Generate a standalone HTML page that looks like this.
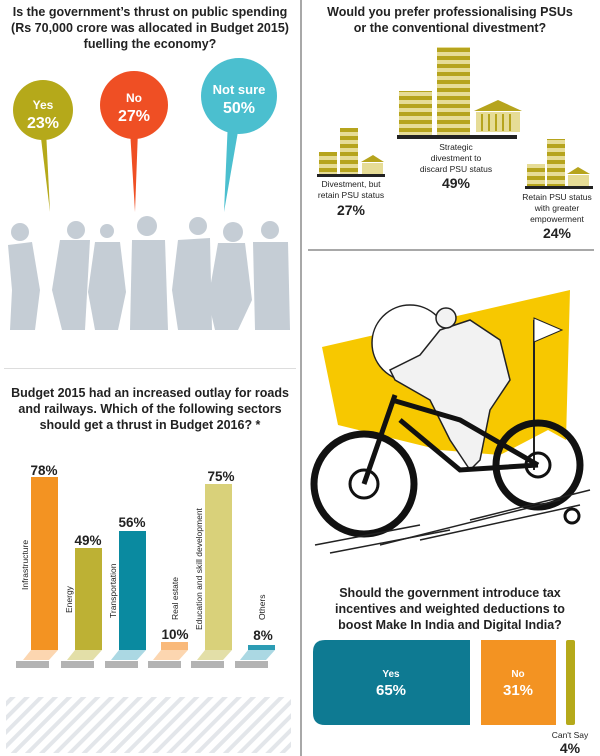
<!DOCTYPE html>
<html><head><meta charset="utf-8"><style>
html,body{margin:0;padding:0;background:#fff}
svg{display:block}
text{font-family:"Liberation Sans",Arial,sans-serif}
</style></head><body>
<svg width="600" height="756" viewBox="0 0 600 756" xmlns="http://www.w3.org/2000/svg">
<defs>
<pattern id="hatch" width="10" height="10" patternUnits="userSpaceOnUse" patternTransform="rotate(45)">
<rect width="10" height="10" fill="#fff"/><rect width="4" height="10" fill="#e3e6ea"/>
</pattern>
<pattern id="stripe" width="10" height="8" patternUnits="userSpaceOnUse">
<rect width="10" height="8" fill="#e6dc96"/><rect y="0" width="10" height="4" fill="#b6a41d"/>
</pattern>
</defs>
<!-- dividers -->
<rect x="300" y="0" width="2" height="756" fill="#a8a8a8"/>
<rect x="4" y="368" width="292" height="1" fill="#ddd"/>
<rect x="308" y="249" width="286" height="2" fill="#a8a8a8"/>

<!-- Section 1 -->
<g font-weight="bold" font-size="12.5" fill="#222" text-anchor="middle">
<text x="150" y="16">Is the government’s thrust on public spending</text>
<text x="150" y="32">(Rs 70,000 crore was allocated in Budget 2015)</text>
<text x="150" y="48">fuelling the economy?</text>
</g>
<polygon points="40,130 46,130 50,212" fill="#b5a91a"/>
<circle cx="43" cy="110" r="30" fill="#b5a91a"/>
<polygon points="130,130 138,130 135,212" fill="#ef4f24"/>
<circle cx="134" cy="105" r="34" fill="#ef4f24"/>
<polygon points="228,120 240,120 224,212" fill="#4bbfcf"/>
<circle cx="239" cy="96" r="38" fill="#4bbfcf"/>
<g fill="#fff" font-weight="bold" text-anchor="middle">
<text x="43" y="109" font-size="12">Yes</text><text x="43" y="128" font-size="16">23%</text>
<text x="134" y="102" font-size="12">No</text><text x="134" y="121" font-size="16">27%</text>
<text x="239" y="94" font-size="13">Not sure</text><text x="239" y="113" font-size="16">50%</text>
</g>
<g fill="#c5cdd5">
<circle cx="20" cy="232" r="9"/><path d="M8,245 L32,242 L40,290 L35,330 L10,330 L12,290 Z"/>
<circle cx="76" cy="230" r="9"/><path d="M60,240 L90,240 L85,330 L62,330 L52,290 Z"/>
<circle cx="107" cy="231" r="7"/><path d="M95,242 L120,242 L126,292 L118,330 L95,330 L88,292 Z"/>
<circle cx="147" cy="226" r="10"/><path d="M132,240 L165,240 L168,330 L130,330 Z"/>
<circle cx="198" cy="226" r="9"/><path d="M178,240 L210,238 L212,330 L178,330 L172,290 Z"/>
<circle cx="233" cy="232" r="10"/><path d="M218,243 L245,243 L252,300 L238,330 L215,330 L208,300 Z"/>
<circle cx="270" cy="230" r="9"/><path d="M253,242 L288,242 L290,330 L255,330 Z"/>
</g>

<!-- Section 2 -->
<g font-weight="bold" font-size="12.5" fill="#222" text-anchor="middle">
<text x="150" y="397">Budget 2015 had an increased outlay for roads</text>
<text x="150" y="413">and railways. Which of the following sectors</text>
<text x="150" y="429">should get a thrust in Budget 2016? *</text>
</g>
<g>
<rect x="31" y="477" width="27" height="173" fill="#f39322"/>
<rect x="75" y="548" width="27" height="102" fill="#bdb134"/>
<rect x="119" y="531" width="27" height="119" fill="#0a8aa0"/>
<rect x="161" y="642" width="27" height="8" fill="#f9b97a"/>
<rect x="205" y="484" width="27" height="166" fill="#d9d17a"/>
<rect x="248" y="645" width="27" height="5" fill="#2c9cb4"/>
<polygon points="23,660 31,650 58,650 49,660" fill="#fcd6b0"/>
<polygon points="67,660 75,650 102,650 93,660" fill="#e3dfa8"/>
<polygon points="111,660 119,650 146,650 137,660" fill="#abd8e3"/>
<polygon points="153,660 161,650 188,650 179,660" fill="#fcd6b0"/>
<polygon points="197,660 205,650 232,650 223,660" fill="#e3dfa8"/>
<polygon points="240,660 248,650 275,650 266,660" fill="#abd8e3"/>
<g fill="#b3b3b3">
<rect x="16" y="661" width="33" height="7"/><rect x="61" y="661" width="33" height="7"/>
<rect x="105" y="661" width="33" height="7"/><rect x="148" y="661" width="33" height="7"/>
<rect x="191" y="661" width="33" height="7"/><rect x="235" y="661" width="33" height="7"/>
</g>
<g font-weight="bold" font-size="13.5" fill="#222" text-anchor="middle">
<text x="44" y="475">78%</text><text x="88" y="545">49%</text><text x="132" y="527">56%</text>
<text x="175" y="639">10%</text><text x="221" y="481">75%</text><text x="263" y="640">8%</text>
</g>
<g font-size="8.5" fill="#222">
<text transform="translate(28,590) rotate(-90)">Infrastructure</text>
<text transform="translate(72,613) rotate(-90)">Energy</text>
<text transform="translate(116,618) rotate(-90)">Transportation</text>
<text transform="translate(178,620) rotate(-90)">Real estate</text>
<text transform="translate(202,630) rotate(-90)">Education and skill development</text>
<text transform="translate(265,620) rotate(-90)">Others</text>
</g>
</g>
<rect x="6" y="697" width="285" height="56" fill="url(#hatch)"/>

<!-- Section 3 right top -->
<g font-weight="bold" font-size="12.5" fill="#222" text-anchor="middle">
<text x="450" y="16">Would you prefer professionalising PSUs</text>
<text x="450" y="32">or the conventional divestment?</text>
</g>
<!-- big group -->
<rect x="399" y="91" width="33" height="44" fill="url(#stripe)"/>
<rect x="437" y="47" width="33" height="88" fill="url(#stripe)"/>
<polygon points="474,111 498,100 522,111" fill="#b6a41d"/>
<rect x="476" y="112" width="44" height="20" fill="#e6dc96"/>
<g fill="#b6a41d"><rect x="481" y="114" width="2" height="17"/><rect x="488" y="114" width="2" height="17"/><rect x="495" y="114" width="2" height="17"/><rect x="502" y="114" width="2" height="17"/><rect x="509" y="114" width="2" height="17"/></g>
<rect x="397" y="135" width="120" height="4" fill="#222"/>
<!-- left small -->
<rect x="319" y="152" width="18" height="22" fill="url(#stripe)"/>
<rect x="340" y="128" width="18" height="46" fill="url(#stripe)"/>
<polygon points="361,162 373,155 384,162" fill="#b6a41d"/>
<rect x="362" y="163" width="21" height="11" fill="#e6dc96"/>
<rect x="317" y="174" width="68" height="3" fill="#222"/>
<!-- right small -->
<rect x="527" y="164" width="18" height="22" fill="url(#stripe)"/>
<rect x="547" y="139" width="18" height="47" fill="url(#stripe)"/>
<polygon points="567,174 578,167 590,174" fill="#b6a41d"/>
<rect x="568" y="175" width="21" height="11" fill="#e6dc96"/>
<rect x="525" y="186" width="68" height="3" fill="#222"/>
<g font-size="8.5" fill="#222" text-anchor="middle">
<text x="351" y="187">Divestment, but</text><text x="351" y="198">retain PSU status</text>
<text x="456" y="150">Strategic</text><text x="456" y="161">divestment to</text><text x="456" y="172">discard PSU status</text>
<text x="557" y="200">Retain PSU status</text><text x="557" y="211">with greater</text><text x="557" y="222">empowerment</text>
</g>
<g font-weight="bold" font-size="14" fill="#222" text-anchor="middle">
<text x="351" y="215">27%</text><text x="456" y="188">49%</text><text x="557" y="238">24%</text>
</g>

<!-- bike illustration (approx) -->
<polygon points="322,347 570,290 566,440 548,430 500,455 440,450 338,425" fill="#f7c800"/>
<circle cx="410" cy="343" r="38" fill="#fff" stroke="#222" stroke-width="1.5"/>
<path d="M440,330 L470,320 L500,340 L510,380 L490,410 L480,460 L470,470 L450,440 L430,400 L395,380 L390,370 L420,355 Z" fill="#f2f2f2" stroke="#222" stroke-width="1.5"/>
<circle cx="446" cy="318" r="10" fill="#f2f2f2" stroke="#222" stroke-width="1.5"/>
<line x1="534" y1="320" x2="534" y2="470" stroke="#222" stroke-width="2"/>
<polygon points="534,318 562,330 534,342" fill="#fff" stroke="#222"/>
<circle cx="364" cy="484" r="50" fill="none" stroke="#111" stroke-width="7"/>
<circle cx="364" cy="484" r="14" fill="none" stroke="#111" stroke-width="3"/>
<circle cx="538" cy="465" r="42" fill="none" stroke="#111" stroke-width="7"/>
<circle cx="538" cy="465" r="12" fill="none" stroke="#111" stroke-width="3"/>
<circle cx="572" cy="516" r="7" fill="none" stroke="#111" stroke-width="3"/>
<path d="M364,484 L395,395 M392,400 L460,420 L538,465 M400,420 L460,470 L538,465" stroke="#111" stroke-width="5" fill="none"/>
<g stroke="#222" stroke-width="1.5">
<line x1="315" y1="545" x2="420" y2="525"/><line x1="330" y1="553" x2="450" y2="530"/>
<line x1="380" y1="545" x2="560" y2="500"/><line x1="420" y1="540" x2="580" y2="505"/>
<line x1="470" y1="520" x2="590" y2="490"/>
</g>

<!-- tax section -->
<g font-weight="bold" font-size="12.5" fill="#222" text-anchor="middle">
<text x="450" y="597">Should the government introduce tax</text>
<text x="450" y="613">incentives and weighted deductions to</text>
<text x="450" y="629">boost Make In India and Digital India?</text>
</g>
<path d="M325,640 L470,640 L470,725 L325,725 Q313,725 313,713 L313,652 Q313,640 325,640 Z" fill="#0e7a92"/>
<rect x="481" y="640" width="75" height="85" fill="#f39322"/>
<rect x="566" y="640" width="9" height="85" rx="2" fill="#b5a91a"/>
<g fill="#fff" font-weight="bold" text-anchor="middle">
<text x="391" y="677" font-size="10">Yes</text><text x="391" y="695" font-size="15">65%</text>
<text x="518" y="677" font-size="10">No</text><text x="518" y="695" font-size="15">31%</text>
</g>
<text x="570" y="738" font-size="8.5" fill="#222" text-anchor="middle">Can't Say</text>
<text x="570" y="753" font-size="14" font-weight="bold" fill="#222" text-anchor="middle">4%</text>
</svg>
</body></html>
